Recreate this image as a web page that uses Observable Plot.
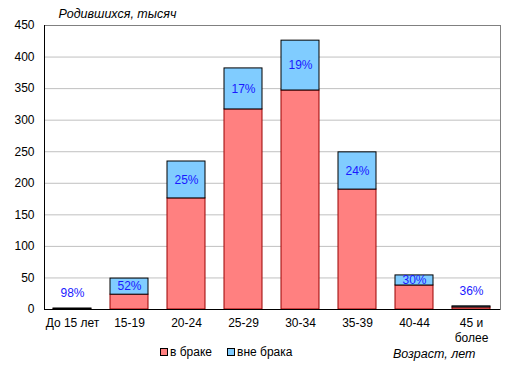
<!DOCTYPE html>
<html><head><meta charset="utf-8">
<script src="https://cdn.jsdelivr.net/npm/d3@7"></script>
<script src="https://cdn.jsdelivr.net/npm/@observablehq/plot@0.6"></script>
<style>
body{margin:0;background:#fff;font-family:"Liberation Sans",Arial,sans-serif;}
#wrap{position:relative;width:514px;height:374px;}
.lg{position:absolute;top:345px;font-size:12px;display:flex;align-items:center;color:#000;}
.sw{width:6px;height:6px;border:1px solid #000;margin-right:2px;}
</style></head>
<body><div id="wrap"></div>
<script>
const categories = ["До 15 лет","15-19","20-24","25-29","30-34","35-39","40-44","45 и более"];
const married = [0.03, 23.5, 176, 317, 347, 190, 38, 3.2];
const totals = [1.6, 49, 234.5, 382, 426, 249, 54, 5];
const outShare = [98, 52, 25, 17, 19, 24, 30, 36];
const yTicks = [0,50,100,150,200,250,300,350,400,450];

const rows = categories.map((c,i)=>({cat:c, m:married[i], t:totals[i], p:outShare[i]}));
const big = rows.filter(d=>d.t>=20);
const small = rows.filter(d=>d.t<20);

const chart = Plot.plot({
  width:514, height:374,
  marginLeft:44, marginRight:14, marginTop:25, marginBottom:65,
  style:{fontFamily:'"Liberation Sans",Arial,sans-serif', fontSize:"12px", color:"#000", background:"#fff"},
  x:{domain:categories, paddingInner:0.333, paddingOuter:0.158, label:null},
  y:{domain:[0,450], label:null},
  marks:[
    Plot.ruleY(yTicks.slice(1,-1), {stroke:"#c0c0c0", strokeWidth:1}),
    Plot.frame({stroke:"#808080"}),
    Plot.barY(rows, {x:"cat", y1:0, y2:"m", fill:"#ff8080", stroke:"#990000", strokeWidth:1}),
    Plot.barY(rows, {x:"cat", y1:"m", y2:"t", fill:"#80ccff", stroke:"#000", strokeWidth:1}),
    Plot.text(big, {x:"cat", y:d=>(d.m+d.t)/2, text:d=>d.p+"%", fill:"#1a1aff", fontSize:12}),
    Plot.text(small, {x:"cat", y:"t", dy:-15, text:d=>d.p+"%", fill:"#1a1aff", fontSize:12}),
    Plot.ruleY([0], {stroke:"#000"}),
    Plot.frame({anchor:"left", stroke:"#000"}),
    Plot.axisY({ticks:yTicks, tickSize:0, tickPadding:10, label:null, fontSize:12}),
    Plot.axisX({tickSize:0, tickPadding:7, label:null, fontSize:12, lineHeight:1.25,
      tickFormat:d=>d==="45 и более"?"45 и\nболее":d}),
    Plot.text(["Родившихся, тысяч"], {frameAnchor:"top-left", dx:14, dy:-16, textAnchor:"start", fontStyle:"italic", fontSize:12.5}),
    Plot.text(["Возраст, лет"], {frameAnchor:"bottom-right", dx:-25, dy:48, textAnchor:"end", fontStyle:"italic", fontSize:12.5})
  ]
});
const wrap = document.getElementById("wrap");
wrap.appendChild(chart);
const legend = [{t:"в браке", c:"#ff8080", x:160},{t:"вне брака", c:"#80ccff", x:227}];
legend.forEach(l=>{
  const d=document.createElement("div"); d.className="lg"; d.style.left=l.x+"px";
  d.innerHTML=`<span class="sw" style="background:${l.c}"></span><span>${l.t}</span>`;
  wrap.appendChild(d);
});
</script></body></html>
